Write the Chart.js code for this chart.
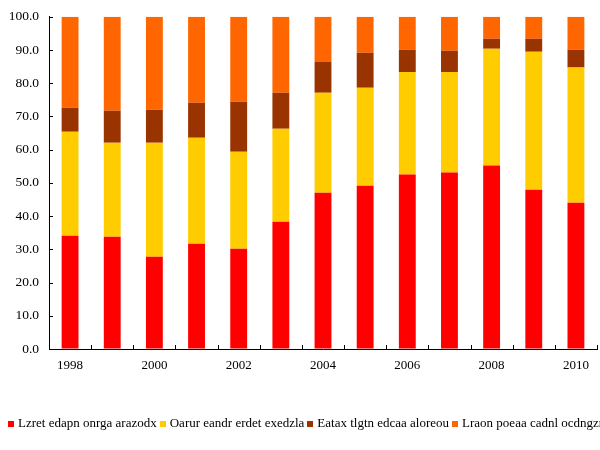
<!DOCTYPE html>
<html>
<head>
<meta charset="utf-8">
<script src="https://cdn.jsdelivr.net/npm/chart.js@4/dist/chart.umd.min.js"></script>
<style>
  html, body { margin: 0; padding: 0; background: #fff; }
  #wrap { position: relative; width: 600px; height: 450px; overflow: hidden; }
  #c { position: absolute; left: 0; top: 0; }
  #legend { position: absolute; left: 8px; top: 415px; white-space: nowrap; font-family: "Liberation Serif", "Times New Roman", serif; font-size: 13px; color: #000; }
  #legend span.item { margin-right: 3px; }
  #legend span.box { display: inline-block; width: 6px; height: 6px; margin-right: 4px; vertical-align: 0px; }
</style>
</head>
<body>
<div id="wrap">
  <canvas id="c" width="600" height="450"></canvas>
  <div id="legend"></div>
</div>
<script>
const categories = ["1998","1999","2000","2001","2002","2003","2004","2005","2006","2007","2008","2009","2010"];
const seriesNames = ["Lzret edapn onrga arazodx", "Oarur eandr erdet exedzla", "Eatax tlgtn edcaa aloreou", "Lraon poeaa cadnl ocdngzmu"];
const seriesColors = ["#FF0000", "#FFCC00", "#993300", "#FF6600"];
const series1 = [34.1, 33.8, 27.8, 31.7, 30.2, 38.3, 47.0, 49.1, 52.5, 53.1, 55.2, 47.9, 44.0];
const series2 = [31.3, 28.3, 34.3, 31.9, 29.2, 28.0, 30.1, 29.5, 30.9, 30.3, 35.2, 41.6, 40.7];
const series3 = [7.2, 9.6, 9.9, 10.5, 15.0, 10.8, 9.4, 10.6, 6.7, 6.4, 3.0, 3.9, 5.4];
const series4 = [27.4, 28.3, 28.0, 25.9, 25.6, 22.9, 13.5, 10.8, 9.9, 10.2, 6.6, 6.6, 9.9];
const yTicks = [0, 10, 20, 30, 40, 50, 60, 70, 80, 90, 100];

const allSeries = [series1, series2, series3, series4];
const FONT = "'Liberation Serif', 'Times New Roman', serif";

const innerTicks = {
  id: 'innerTicks',
  afterDraw(chart) {
    const ctx = chart.ctx;
    const xs = chart.scales.x, ys = chart.scales.y;
    const ca = chart.chartArea;
    ctx.save();
    ctx.strokeStyle = '#000';
    ctx.lineWidth = 1;
    ctx.beginPath();
    for (let i = 0; i <= categories.length; i++) {
      const px = Math.round(xs.getPixelForValue(i - 0.5)) + 0.5;
      ctx.moveTo(px, ca.bottom);
      ctx.lineTo(px, ca.bottom - 4);
    }
    yTicks.forEach(v => {
      const py = Math.round(ys.getPixelForValue(v)) + 0.5;
      ctx.moveTo(ca.left, py);
      ctx.lineTo(ca.left + 4, py);
    });
    ctx.stroke();
    ctx.restore();
  }
};

new Chart(document.getElementById('c'), {
  type: 'bar',
  data: {
    labels: categories,
    datasets: allSeries.map((d, i) => ({
      label: seriesNames[i],
      data: d,
      backgroundColor: seriesColors[i],
      borderWidth: 0,
      barPercentage: 0.4,
      categoryPercentage: 1.0
    }))
  },
  options: {
    responsive: false,
    animation: false,
    layout: { padding: { top: 16, right: 3, left: 0, bottom: 0 } },
    plugins: { legend: { display: false }, tooltip: { enabled: false } },
    scales: {
      x: {
        stacked: true,
        grid: { display: true, drawOnChartArea: false, drawTicks: false, offset: true },
        border: { display: true, color: '#000', width: 1 },
        ticks: {
          autoSkip: false, maxRotation: 0, padding: 9, color: '#000',
          font: { family: FONT, size: 13 },
          callback: (v, i) => (i % 2 === 0 ? categories[i] : '')
        },
        afterFit(scale) { scale.height = 101; }
      },
      y: {
        stacked: true,
        min: 0, max: 100,
        grid: { display: true, drawOnChartArea: false, drawTicks: false },
        border: { display: true, color: '#000', width: 1 },
        ticks: {
          stepSize: 10, padding: 10, color: '#000',
          font: { family: FONT, size: 13.5, lineHeight: 1 },
          callback: v => Number(v).toFixed(1)
        },
        afterFit(scale) { scale.width = 49; }
      }
    }
  },
  plugins: [innerTicks]
});

const lg = document.getElementById('legend');
seriesNames.forEach((n, i) => {
  const it = document.createElement('span');
  it.className = 'item';
  const b = document.createElement('span');
  b.className = 'box';
  b.style.background = seriesColors[i];
  it.appendChild(b);
  it.appendChild(document.createTextNode(n));
  lg.appendChild(it);
});
</script>
</body>
</html>
